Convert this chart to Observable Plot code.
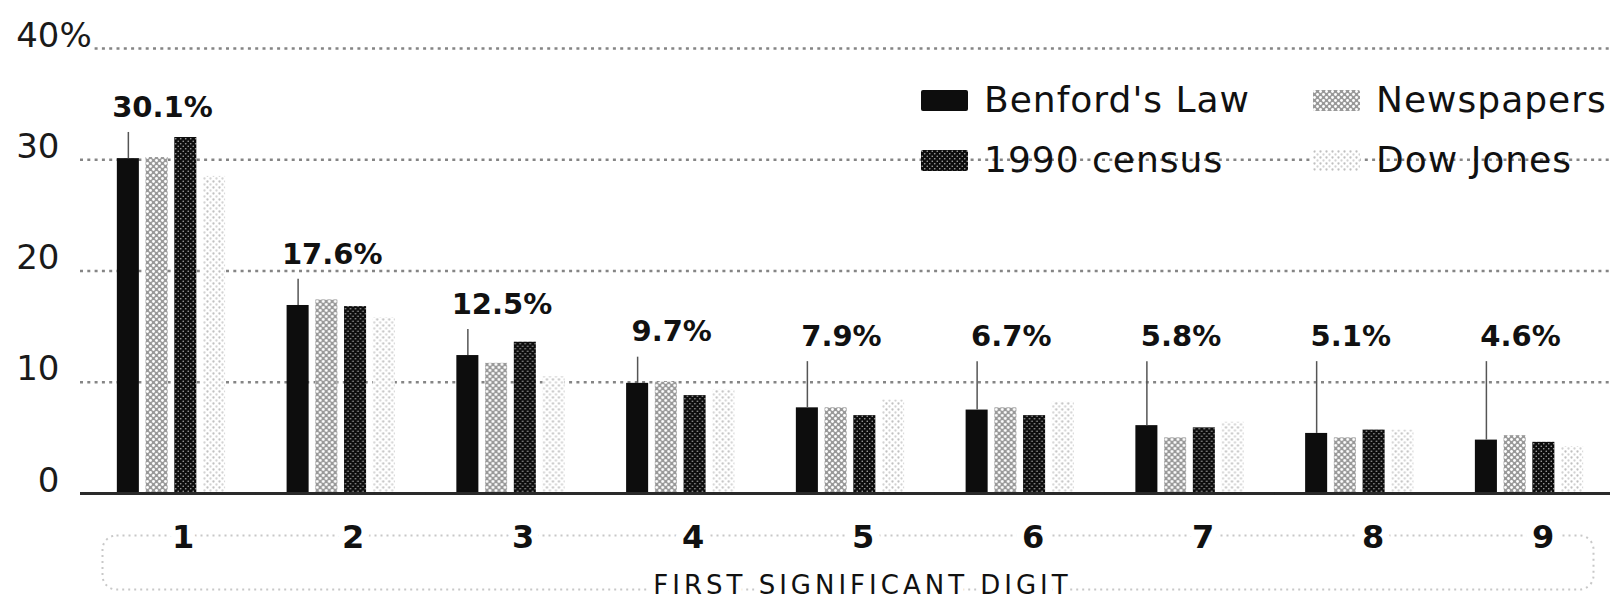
<!DOCTYPE html>
<html>
<head>
<meta charset="utf-8">
<script src="https://cdn.jsdelivr.net/npm/d3@7"></script>
<script src="https://cdn.jsdelivr.net/npm/@observablehq/plot@0.6"></script>
<style>
  html, body { margin: 0; padding: 0; background: #fff; }
  #wrap { position: relative; width: 1610px; height: 601px; overflow: hidden; background: #fff; }
  #wrap > .layer { position: absolute; left: 0; top: 0; }
  #legend {
    position: absolute; left: 921px; top: 82px;
    display: grid; grid-template-columns: 392px auto; row-gap: 24px;
    font-family: "DejaVu Sans"; font-size: 36px; line-height: 36px;
    letter-spacing: 1px; color: #111;
  }
  .item { display: flex; align-items: center; white-space: nowrap; }
  .item svg { margin-right: 16px; flex: none; }
</style>
</head>
<body>
<svg width="0" height="0" style="position:absolute">
  <defs>
    <pattern id="pat-news" width="6" height="6" patternUnits="userSpaceOnUse">
      <rect width="6" height="6" fill="#999"/>
      <circle cx="1.5" cy="1.5" r="1.45" fill="#fff"/>
      <circle cx="4.5" cy="4.5" r="1.45" fill="#fff"/>
    </pattern>
    <pattern id="pat-census" width="5" height="5" patternUnits="userSpaceOnUse">
      <rect width="5" height="5" fill="#0d0d0d"/>
      <circle cx="1.25" cy="1.25" r="0.8" fill="#aaa"/>
      <circle cx="3.75" cy="3.75" r="0.8" fill="#aaa"/>
    </pattern>
    <pattern id="pat-dow" width="6" height="6" patternUnits="userSpaceOnUse">
      <rect width="6" height="6" fill="#fff"/>
      <circle cx="1.5" cy="1.5" r="1.15" fill="#c0c0c0"/>
      <circle cx="4.5" cy="4.5" r="1.15" fill="#d2d2d2"/>
    </pattern>
  </defs>
</svg>
<div id="wrap">
  <div id="back" class="layer"></div>
  <div id="front" class="layer"></div>
  <div id="legend"></div>
</div>
<script>
// ---- data ----
const digits = [1, 2, 3, 4, 5, 6, 7, 8, 9];
const series = ["Benford's Law", "Newspapers", "1990 census", "Dow Jones"];
const benford    = [30.1, 16.9, 12.4, 9.9, 7.7, 7.5, 6.1, 5.4, 4.8];
const newspapers = [30.2, 17.4, 11.7, 10.0, 7.7, 7.7, 5.0, 5.0, 5.2];
const census     = [32.0, 16.8, 13.6, 8.8, 7.0, 7.0, 5.9, 5.7, 4.6];
const dowJones   = [28.5, 15.8, 10.5, 9.3, 8.4, 8.2, 6.4, 5.7, 4.2];
const benfordLabels = ["30.1%", "17.6%", "12.5%", "9.7%", "7.9%", "6.7%", "5.8%", "5.1%", "4.6%"];
const yTicks = [0, 10, 20, 30, 40];
const axisTitle = "FIRST SIGNIFICANT DIGIT";

// ---- derived tables ----
const valuesBySeries = [benford, newspapers, census, dowJones];
const rows = digits.flatMap((d, i) =>
  series.map((s, j) => ({digit: d, series: s, value: valuesBySeries[j][i]})));
const labelRows = digits.map((d, i) => ({
  digit: d, value: benford[i], label: benfordLabels[i],
  labelY: Math.max(benford[i] + 4.6, 14.1)
}));
const fills = ["#0d0d0d", "url(#pat-news)", "url(#pat-census)", "url(#pat-dow)"];
const yMax = d3.max(yTicks);

const common = {
  width: 1610, height: 601,
  marginTop: 48, marginBottom: 108, marginLeft: 80, marginRight: 0,
  y: {domain: [0, yMax], axis: null}
};
const digitBand = {domain: digits, paddingInner: 0.305, paddingOuter: 0.159, align: 0.592, round: false};

// background layer: grid, y labels, digit labels, axis title
const back = Plot.plot({
  ...common,
  style: {fontFamily: "DejaVu Sans", background: "white", color: "#111"},
  x: {...digitBand, axis: null},
  marks: [
    Plot.ruleY(yTicks.filter(t => t > 0), {stroke: "#858585", strokeWidth: 2.5, strokeDasharray: "3,4.3"}),
    Plot.frame({insetLeft: 22, insetRight: 17, insetTop: 487, insetBottom: -96, rx: 14,
      stroke: "#c8c8c8", strokeWidth: 2, strokeDasharray: "2,4"}),
    Plot.ruleY([0], {stroke: "#2a2a2a", strokeWidth: 3}),
    Plot.text(yTicks, {y: d => d, text: d => String(d), frameAnchor: "left",
      textAnchor: "end", dx: -21, dy: -2, lineAnchor: "bottom", fontSize: 34, fill: "#1a1a1a",
      stroke: "white", strokeWidth: 10, paintOrder: "stroke"}),
    Plot.text([yMax], {y: d => d, text: () => "%", frameAnchor: "left",
      textAnchor: "start", dx: -21, dy: -2, lineAnchor: "bottom", fontSize: 34, fill: "#1a1a1a",
      stroke: "white", strokeWidth: 10, paintOrder: "stroke"}),
    Plot.text(digits, {x: d => d, text: d => String(d), frameAnchor: "bottom", lineAnchor: "middle",
      dy: 44, dx: 2, fontSize: 32, fontWeight: "bold", fill: "#111",
      stroke: "white", strokeWidth: 16, paintOrder: "stroke"}),
    Plot.text([axisTitle], {text: d => d, frameAnchor: "bottom", lineAnchor: "middle", dy: 92, dx: 17,
      fontSize: 26, fill: "#111", stroke: "white", strokeWidth: 12, paintOrder: "stroke"})
  ]
});
d3.select(back).selectAll("text")
  .filter(function () { return this.textContent === axisTitle; })
  .attr("letter-spacing", "4px");

// front layer: grouped bars faceted by digit
const front = Plot.plot({
  ...common,
  style: {fontFamily: "DejaVu Sans", background: "transparent", color: "#111"},
  fx: {...digitBand, axis: null, label: null},
  x: {domain: series, paddingInner: 0.233, paddingOuter: 0.17, round: false, axis: null},
  color: {type: "ordinal", domain: series, range: fills},
  marks: [
    Plot.barY(rows, {fx: "digit", x: "series", y: "value", fill: "series"}),
    Plot.ruleY([0], {insetLeft: -26, insetRight: -26, stroke: "#2a2a2a", strokeWidth: 3}),
    Plot.ruleX(labelRows, {fx: "digit", x: () => series[0], y1: "labelY", y2: "value",
      insetTop: 25, stroke: "#555", strokeWidth: 1.5}),
    Plot.text(labelRows, {fx: "digit", y: "labelY", text: "label", dx: -9,
      fontSize: 29, fontWeight: "bold", fill: "#111"})
  ]
});

document.getElementById("back").appendChild(back);
document.getElementById("front").appendChild(front);

// legend (inside the plot area, top right)
const legend = d3.select("#legend");
series.forEach((s, j) => {
  const item = legend.append("div").attr("class", "item");
  const sw = item.append("svg").attr("width", 47).attr("height", 21);
  sw.append("rect").attr("width", 47).attr("height", 21).attr("rx", 2).attr("fill", fills[j]);
  item.append("span").text(s);
});
</script>
</body>
</html>
